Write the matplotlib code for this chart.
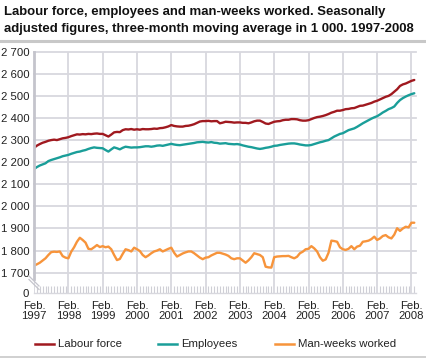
import matplotlib
matplotlib.use("Agg")
import matplotlib.pyplot as plt
from matplotlib.lines import Line2D
import numpy as np

plt.rcParams['font.family'] = ['Liberation Sans', 'DejaVu Sans']

# Monthly data, Feb 1997 .. Mar 2008 (1 000 persons / man-weeks)
labour_force = [
    2265, 2275, 2282, 2288, 2292, 2297, 2300, 2302, 2300, 2304, 2308, 2310,
    2313, 2318, 2322, 2326, 2325, 2327, 2326, 2328, 2327, 2329, 2330, 2328,
    2328, 2322, 2316, 2325, 2335, 2337, 2336, 2345, 2349, 2348, 2350, 2347,
    2349, 2347, 2350, 2349, 2349, 2350, 2352, 2351, 2354, 2355, 2358, 2362,
    2368, 2364, 2362, 2361, 2361, 2364, 2365, 2368, 2372, 2378, 2384, 2386,
    2386, 2387, 2385, 2386, 2386, 2376, 2379, 2383, 2382, 2381, 2379, 2380,
    2380, 2378, 2378, 2376, 2380, 2385, 2388, 2388, 2382, 2375, 2373, 2378,
    2383, 2385, 2386, 2390, 2392, 2392, 2395, 2395, 2394, 2390, 2388, 2388,
    2390, 2395, 2400, 2404, 2406, 2409, 2413, 2418, 2424, 2428, 2433, 2433,
    2436, 2440, 2441, 2444, 2445, 2450, 2455, 2456, 2460, 2464, 2468, 2474,
    2478, 2484, 2490, 2496, 2500, 2508, 2519, 2530, 2545, 2552, 2556, 2562,
    2568, 2572,
]
employees = [
    2169, 2178, 2185, 2190, 2195, 2205, 2210, 2214, 2218, 2222, 2227, 2230,
    2233, 2238, 2242, 2246, 2248, 2252, 2255, 2260, 2264, 2267, 2265, 2264,
    2263, 2255, 2248, 2258, 2267, 2263, 2258, 2265, 2270, 2268, 2266, 2267,
    2267, 2268, 2270, 2272, 2272, 2270, 2272, 2275, 2276, 2274, 2277, 2280,
    2283, 2280, 2278, 2277, 2279, 2281, 2283, 2285, 2287, 2290, 2291, 2292,
    2290, 2289, 2291, 2288, 2287, 2284, 2285, 2286, 2283, 2282, 2281, 2282,
    2280, 2276, 2273, 2270, 2268, 2265, 2262, 2260, 2262, 2265, 2267, 2270,
    2274, 2275, 2278, 2280, 2282, 2284, 2285, 2285, 2283, 2280, 2278, 2276,
    2276, 2278, 2282, 2286, 2290, 2293, 2297, 2300, 2308, 2316, 2322, 2328,
    2331, 2338, 2345, 2349, 2353, 2360, 2368, 2376, 2383, 2390, 2397, 2403,
    2408, 2416, 2425, 2432, 2440, 2445, 2452, 2468, 2481, 2490, 2497, 2503,
    2508, 2512,
]
man_weeks = [
    1732, 1738, 1745, 1755, 1765, 1780, 1793, 1795, 1794, 1796, 1775, 1768,
    1765, 1795, 1815, 1840, 1858, 1848, 1836, 1808, 1806, 1815, 1825, 1816,
    1820, 1815, 1818, 1806, 1780, 1757, 1762, 1785, 1806, 1802, 1796, 1813,
    1806, 1798, 1780, 1770, 1778, 1788, 1796, 1800, 1806, 1796, 1802, 1808,
    1813, 1790, 1773, 1780, 1787, 1792, 1796, 1796, 1788, 1778, 1768, 1761,
    1768, 1770, 1778, 1784, 1790, 1790, 1786, 1782, 1776, 1765, 1761, 1765,
    1765, 1755, 1745, 1756, 1770, 1788, 1784, 1780, 1770, 1727, 1724, 1723,
    1770, 1773, 1774, 1775, 1775, 1776, 1770, 1765, 1772, 1788, 1795, 1806,
    1808, 1820, 1810, 1796, 1770, 1754, 1760, 1790, 1845, 1843, 1840, 1815,
    1806, 1803, 1808, 1820, 1806, 1818, 1822, 1840, 1842, 1845, 1852, 1863,
    1848, 1855, 1866, 1870, 1860, 1855, 1872, 1901, 1889, 1900, 1908, 1905,
    1926, 1926,
]
years = list(range(1997, 2009))
x_labels = [f"Feb.\n{y}" for y in years]
y_ticks = [1700, 1800, 1900, 2000, 2100, 2200, 2300, 2400, 2500, 2600, 2700]
y_labels = ["1 700", "1 800", "1 900", "2 000", "2 100", "2 200", "2 300",
            "2 400", "2 500", "2 600", "2 700"]
series_names = ["Labour force", "Employees", "Man-weeks worked"]
colors = ["#a0191f", "#1a9e99", "#f7943b"]

W, H = 427, 358
fig = plt.figure(figsize=(W / 100, H / 100), dpi=100)

def fx(px):
    return px / W

def fy(py):
    return 1 - py / H

left, right, top, bottom = 33.5, 416, 51.7, 293
ax = fig.add_axes([fx(left), fy(bottom), fx(right - left), fy(top) - fy(bottom)])

zero_pos = 1608  # position of the "0" tick below the axis break
months = np.arange(len(labour_force))
for vals, c, name in zip([labour_force, employees, man_weeks], colors, series_names):
    ax.plot(months, vals, color=c, lw=1.7, label=name, solid_capstyle='round', zorder=3)

ax.set_xlim(-0.2, 133.6)
ax.set_ylim(zero_pos, 2700)
ax.set_yticks([zero_pos] + y_ticks)
ax.set_yticklabels(["0"] + y_labels)
ax.set_xticks([12 * i for i in range(len(years))])
ax.set_xticklabels(x_labels)
ax.set_xticks(np.arange(0, 134), minor=True)

grid_c = "#d8d8de"
for yv in y_ticks:
    ax.axhline(yv, color=grid_c, lw=1.3, zorder=1, clip_on=False)
for i in range(len(years)):
    ax.axvline(12 * i, color=grid_c, lw=1.3, zorder=1)

for s in ["top", "right", "left"]:
    ax.spines[s].set_visible(False)
ax.spines["bottom"].set_color(grid_c)
ax.spines["bottom"].set_linewidth(1.0)

ax.tick_params(axis='y', length=0, pad=3, labelsize=8.2, labelcolor="#222222")
ax.tick_params(axis='x', which='major', length=0, pad=6, labelsize=8.2, labelcolor="#222222")
ax.tick_params(axis='x', which='minor', direction='in', length=5, width=0.8, color="#cfcfd6")
for t in ax.get_xticklabels():
    t.set_linespacing(1.0)

# left spine with axis break
spine_c = "#c4c4cc"
fig.add_artist(Line2D([fx(34), fx(34)], [fy(top), fy(279)], color=spine_c, lw=2))
fig.add_artist(Line2D([fx(29), fx(39)], [fy(276), fy(286)], color=spine_c, lw=0.9))
fig.add_artist(Line2D([fx(29), fx(39)], [fy(279.5), fy(289.5)], color=spine_c, lw=0.9))

# title
fig.text(fx(4), fy(15), "Labour force, employees and man-weeks worked. Seasonally",
         fontsize=9.45, fontweight='bold', color="#111111", va='baseline')
fig.text(fx(4), fy(32), "adjusted figures, three-month moving average in 1 000. 1997-2008",
         fontsize=9.45, fontweight='bold', color="#111111", va='baseline')
fig.add_artist(Line2D([0, 1], [fy(40.5), fy(40.5)], color="#c8c8c8", lw=2.2))
fig.add_artist(Line2D([0, 1], [fy(356.5), fy(356.5)], color="#c8c8c8", lw=1.2))

# legend
leg_x = [35, 158, 275]
for lx, c, name in zip(leg_x, colors, series_names):
    fig.add_artist(Line2D([fx(lx), fx(lx + 19)], [fy(344), fy(344)], color=c, lw=1.8))
    fig.text(fx(lx + 23), fy(344), name, fontsize=8.2, color="#222222", va='center', ha='left')

fig.savefig("out.png", dpi=100)
